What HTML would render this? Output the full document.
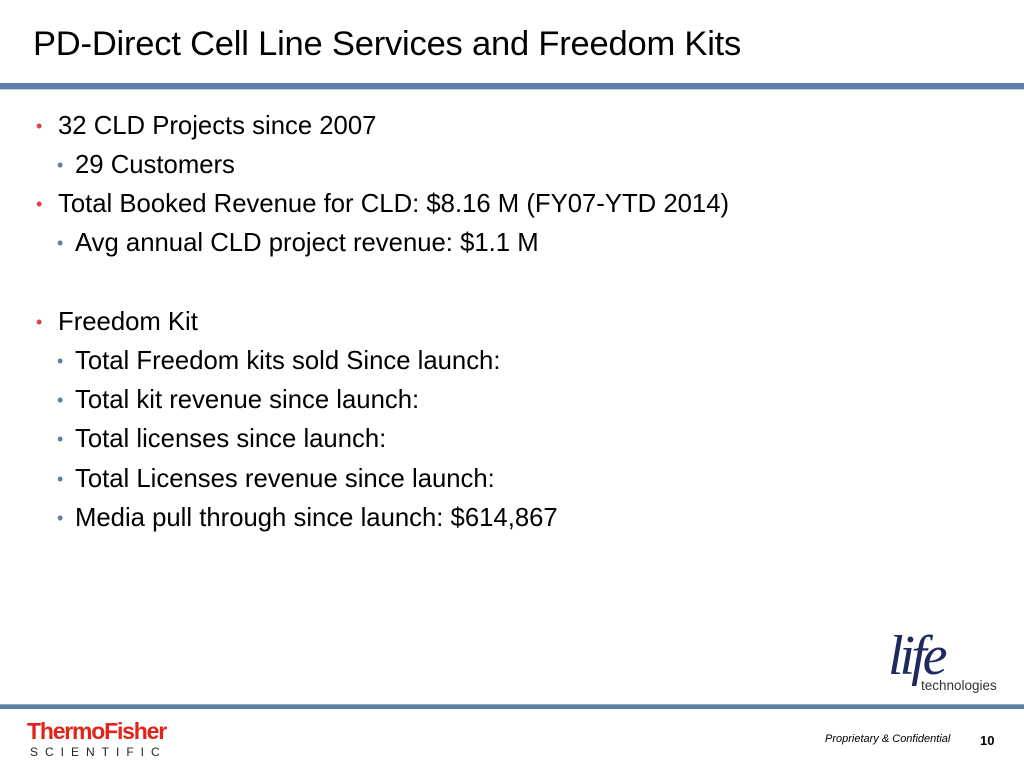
<!DOCTYPE html>
<html><head><meta charset="utf-8"><style>
html,body{margin:0;padding:0}
body{width:1024px;height:768px;position:relative;background:#fff;font-family:"Liberation Sans",Arial,sans-serif;overflow:hidden;color:#000}
.title{position:absolute;left:33px;top:25px;font-size:34.5px;letter-spacing:-0.2px}
.bar{position:absolute;left:0;top:83px;width:1024px;height:6px;background:#5b7fa6;border-bottom:1px solid #c9d6e4}
.line{position:absolute;font-size:25.7px;white-space:nowrap}
.b{color:#e0403f;position:absolute;font-size:18px;top:4px}
.l1{left:58px}.l1 .b{left:-22px}
.l2{left:75px}.l2 .b{left:-18px;color:#5b7fa6}
.foot{position:absolute;left:0;top:704px;width:1024px;height:4px;background:#5b7fa6;border-top:1px solid #8fa9c6}
</style></head><body>
<div class="title">PD-Direct Cell Line Services and Freedom Kits</div>
<div class="bar"></div>

<div class="line l1" style="top:112px"><span class="b">•</span>32 CLD Projects since 2007</div>
<div class="line l2" style="top:151px"><span class="b">•</span>29 Customers</div>
<div class="line l1" style="top:190px"><span class="b">•</span>Total Booked Revenue for CLD: $8.16 M (FY07-YTD 2014)</div>
<div class="line l2" style="top:229px"><span class="b">•</span>Avg annual CLD project revenue: $1.1 M</div>
<div class="line l1" style="top:308px"><span class="b">•</span>Freedom Kit</div>
<div class="line l2" style="top:347px"><span class="b">•</span>Total Freedom kits sold Since launch:</div>
<div class="line l2" style="top:386px"><span class="b">•</span>Total kit revenue since launch:</div>
<div class="line l2" style="top:425px"><span class="b">•</span>Total licenses since launch:</div>
<div class="line l2" style="top:465px"><span class="b">•</span>Total Licenses revenue since launch:</div>
<div class="line l2" style="top:504px"><span class="b">•</span>Media pull through since launch: $614,867</div>

<div style="position:absolute;left:884px;top:632px;width:130px;height:62px">
  <div style="position:absolute;left:4px;top:-8px;font-family:'Liberation Serif',serif;font-style:italic;font-size:56px;color:#1e2a5e;letter-spacing:-4px">life</div>
  <div style="position:absolute;left:37px;top:46px;font-size:13.5px;color:#333">technologies</div>
</div>

<div class="foot"></div>

<div style="position:absolute;left:27px;top:720px">
  <div style="font-weight:bold;font-size:23px;color:#e2231a;letter-spacing:-1.2px;line-height:23px">ThermoFisher</div>
  <div style="font-size:12px;color:#222;letter-spacing:7px;line-height:14px;margin-top:2px;margin-left:3px">SCIENTIFIC</div>
</div>

<div style="position:absolute;left:825px;top:733px;font-size:11px;font-style:italic">Proprietary &amp; Confidential</div>
<div style="position:absolute;left:980px;top:733px;font-size:13px;font-weight:bold">10</div>
</body></html>
